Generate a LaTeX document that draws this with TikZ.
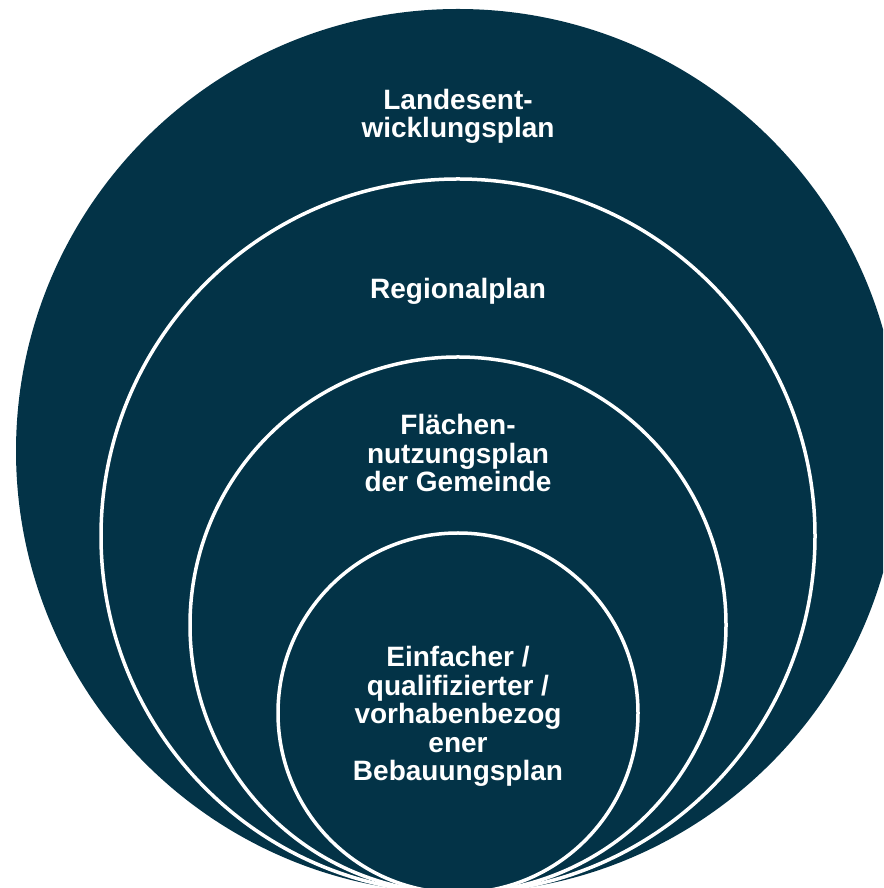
\documentclass[tikz,border=0pt]{standalone}
\usepackage{fontspec}
\setmainfont{Liberation Sans}
\definecolor{planblue}{RGB}{3,51,71}
\tikzset{
  x=1pt, y=1pt,
  level/.style={fill=planblue},
  ring/.style={fill=planblue, draw=white, line width=3.5pt},
  % anchored at the baseline of the last line
  label/.style={text=white, font=\bfseries\fontsize{28}{28.6}\selectfont,
    align=center, anchor=base, inner sep=0pt}
}
\begin{document}
\begin{tikzpicture}
  \useasboundingbox (0,0) rectangle (883,888);
  \clip (0,0) rectangle (883,888);
  % nested planning levels, all touching at the bottom
  \fill[level] (458,437) circle[radius=442];
  \filldraw[ring] (458,352) circle[radius=357];
  \filldraw[ring] (458,263) circle[radius=268];
  \filldraw[ring] (458,175) circle[radius=180];
  % level names
  \node[label] (lep) at (458,750) {Landesent-\\wicklungsplan};
  \node[label] (rp)  at (458,589) {Regionalplan};
  \node[label] (fnp) at (458,396) {Flächen-\\nutzungsplan\\der Gemeinde};
  \node[label] (bp)  at (458,107) {Einfacher /\\qualifizierter /\\vorhabenbezog\\ener\\Bebauungsplan};
\end{tikzpicture}
\end{document}
